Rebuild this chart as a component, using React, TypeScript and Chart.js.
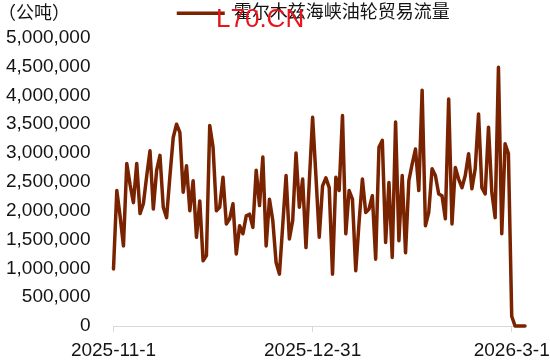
import React, { useEffect, useRef } from 'react';
import { Chart, registerables } from 'chart.js';

Chart.register(...registerables);

// ---- data ----
const startYear = 2025;
const startMonth = 11; // November
const startDay = 1;

const flowValues: number[] = [
  990000, 2350000, 1900000, 1390000, 2820000, 2450000, 2140000, 2820000, 1950000, 2120000,
  2600000, 3040000, 2030000, 2700000, 2960000, 2060000, 1880000, 2600000, 3270000, 3500000,
  3360000, 2320000, 2780000, 2000000, 2520000, 1540000, 2170000, 1130000, 1220000, 3480000,
  3100000, 2000000, 2060000, 2580000, 1770000, 1860000, 2120000, 1250000, 1740000, 1600000,
  1910000, 1940000, 1710000, 2700000, 2090000, 2930000, 1390000, 2200000, 1830000, 1100000,
  900000, 1750000, 2610000, 1510000, 1830000, 3000000, 2060000, 2550000, 1360000, 2500000,
  3620000, 2600000, 1540000, 2430000, 2570000, 2400000, 900000, 2580000, 2350000, 3650000,
  1600000, 2350000, 2200000, 960000, 1800000, 2550000, 1970000, 2030000, 2260000, 1160000,
  3100000, 3220000, 1450000, 2490000, 1190000, 3540000, 1480000, 2610000, 1270000, 2520000,
  2810000, 3070000, 2350000, 4090000, 1740000, 1970000, 2730000, 2610000, 2290000, 2260000,
  1860000, 3940000, 1770000, 2750000, 2550000, 2400000, 2610000, 2990000, 2380000, 2730000,
  3680000, 2400000, 2290000, 3450000, 2320000, 1880000, 4490000, 1600000, 3160000, 2990000,
  170000, 0, 0, 0, 0,
];

const tickLabels: string[] = ['2025-11-1', '2025-12-31', '2026-3-1'];
const seriesName = '霍尔木兹海峡油轮贸易流量';
const unitLabel = '（公吨）';
const watermark = 'L70.CN';
const yMax = 5000000;
const yStep = 500000;

// ---- styles ----
const LINE_COLOR = '#7a2300';
const TEXT_COLOR = '#141414';
const FONT_FAMILY = 'Arial, "Liberation Sans", "Noto Sans CJK SC", sans-serif';

function buildDateLabels(n: number): string[] {
  const out: string[] = [];
  const d = new Date(Date.UTC(startYear, startMonth - 1, startDay));
  for (let i = 0; i < n; i++) {
    out.push(`${d.getUTCFullYear()}-${d.getUTCMonth() + 1}-${d.getUTCDate()}`);
    d.setUTCDate(d.getUTCDate() + 1);
  }
  return out;
}

const overlayPlugin = {
  id: 'overlayText',
  afterLayout(chart: any) {
    // nudge the legend so it sits where the reference puts it
    const lg = chart.legend;
    if (lg) {
      lg.left -= 6;
      lg.right -= 6;
      lg.top -= 5.5;
      lg.bottom -= 5.5;
    }
  },
  afterDraw(chart: any) {
    const ctx = chart.ctx as CanvasRenderingContext2D;
    ctx.save();
    ctx.textAlign = 'left';
    ctx.textBaseline = 'alphabetic';
    ctx.fillStyle = TEXT_COLOR;
    ctx.font = `18px ${FONT_FAMILY}`;
    ctx.fillText(unitLabel, -2, 19);
    ctx.fillStyle = '#e8141b';
    ctx.font = '26px Arial, "Liberation Sans", sans-serif';
    ctx.fillText(watermark, 216, 27);
    ctx.restore();
  },
};

export default function App() {
  const canvasRef = useRef<HTMLCanvasElement | null>(null);

  useEffect(() => {
    if (!canvasRef.current) return;
    const labels = buildDateLabels(flowValues.length);
    const chart = new Chart(canvasRef.current, {
      type: 'line',
      data: {
        labels,
        datasets: [
          {
            label: seriesName,
            data: flowValues,
            borderColor: LINE_COLOR,
            backgroundColor: LINE_COLOR,
            borderWidth: 3.5,
            pointRadius: 0,
            pointHoverRadius: 0,
            tension: 0,
            borderJoinStyle: 'round',
            borderCapStyle: 'round',
            clip: false as any,
          },
        ],
      },
      options: {
        responsive: false,
        animation: false,
        events: [],
        layout: { padding: { left: 0, right: 25, top: -3.2, bottom: 0 } },
        plugins: {
          tooltip: { enabled: false },
          legend: {
            display: true,
            position: 'top',
            fullSize: false,
            labels: {
              usePointStyle: true,
              pointStyle: 'line',
              pointStyleWidth: 48,
              padding: 13,
              color: TEXT_COLOR,
              font: { size: 18, family: FONT_FAMILY },
            },
          },
        },
        scales: {
          x: {
            type: 'category',
            offset: false,
            afterFit: (scale: any) => {
              scale.height = 36;
              scale.paddingLeft = 0;
              scale.paddingRight = 0;
            },
            grid: {
              display: true,
              drawOnChartArea: false,
              drawTicks: true,
              tickLength: 6,
              color: '#d9d9d9',
            },
            border: { display: true, color: '#d9d9d9', width: 1 },
            ticks: {
              autoSkip: false,
              maxRotation: 0,
              minRotation: 0,
              padding: 7,
              color: TEXT_COLOR,
              font: { size: 19, family: FONT_FAMILY },
              callback: function (this: any, value: any) {
                const lab = this.getLabelForValue(value);
                return tickLabels.includes(lab) ? lab : null;
              },
            },
          },
          y: {
            min: 0,
            max: yMax,
            afterFit: (scale: any) => {
              scale.width = 113.5;
            },
            grid: { display: false, drawTicks: false },
            border: { display: false },
            ticks: {
              stepSize: yStep,
              padding: 23,
              color: TEXT_COLOR,
              font: { size: 19, family: FONT_FAMILY },
              callback: (v: any) => Number(v).toLocaleString('en-US'),
            },
          },
        },
      },
      plugins: [overlayPlugin],
    });
    return () => chart.destroy();
  }, []);

  return (
    <div style={{ position: 'fixed', left: 0, top: 0, width: 550, height: 362, background: '#fff' }}>
      <canvas ref={canvasRef} width={550} height={362} style={{ display: 'block' }} />
    </div>
  );
}
